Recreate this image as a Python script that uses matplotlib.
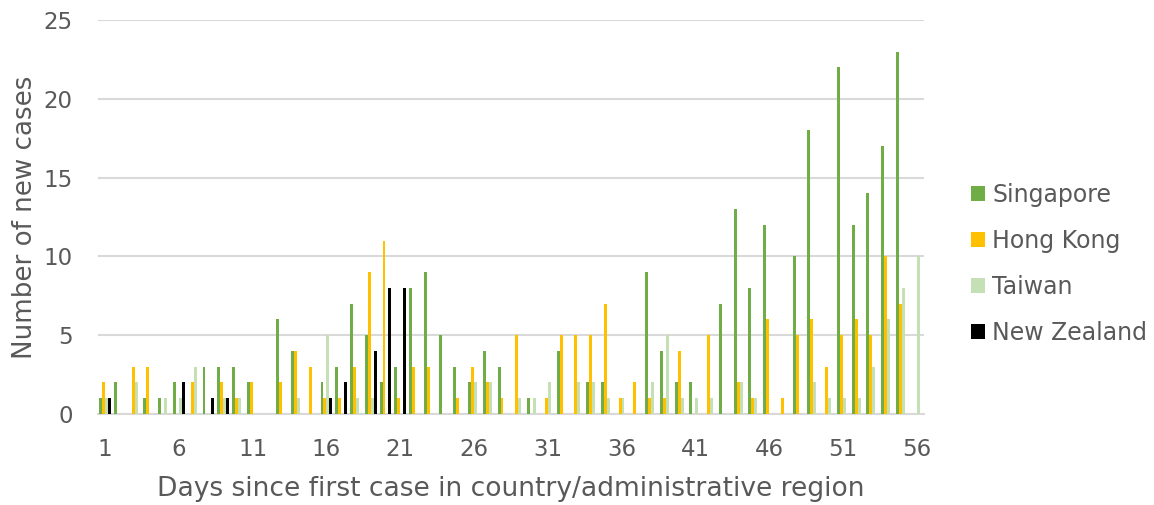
import numpy as np
import matplotlib
matplotlib.use("Agg")
import matplotlib.pyplot as plt

days = list(range(1, 57))
singapore = [1, 2, 0, 1, 1, 2, 0, 3, 3, 3, 2, 0, 6, 4, 0, 2, 3, 7, 5, 2,
             3, 8, 9, 5, 3, 2, 4, 3, 0, 1, 0, 4, 0, 2, 2, 0, 0, 9, 4, 2,
             2, 0, 7, 13, 8, 12, 0, 10, 18, 0, 22, 12, 14, 17, 23, 0]
hong_kong = [2, 0, 3, 3, 0, 0, 2, 0, 2, 1, 2, 0, 2, 4, 3, 1, 1, 3, 9, 11,
             1, 3, 3, 0, 1, 3, 2, 1, 5, 0, 1, 5, 5, 5, 7, 1, 2, 1, 1, 4,
             0, 5, 0, 2, 1, 6, 1, 5, 6, 3, 5, 6, 5, 10, 7, 0]
taiwan = [1, 0, 2, 0, 1, 1, 3, 0, 1, 1, 0, 0, 0, 1, 0, 5, 0, 1, 1, 0,
          0, 0, 0, 0, 0, 2, 2, 0, 1, 1, 2, 0, 2, 2, 1, 1, 0, 2, 5, 1,
          1, 1, 0, 2, 1, 0, 0, 0, 2, 1, 1, 1, 3, 6, 8, 10]
new_zealand = [1, 0, 0, 0, 0, 2, 0, 1, 1, 0, 0, 0, 0, 0, 0, 1, 2, 0, 4, 8,
               8, 0, 0, 0, 0, 0, 0, 0, 0, 0, 0, 0, 0, 0, 0, 0, 0, 0, 0, 0,
               0, 0, 0, 0, 0, 0, 0, 0, 0, 0, 0, 0, 0, 0, 0, 0]
series_names = ["Singapore", "Hong Kong", "Taiwan", "New Zealand"]
x_tick_labels = [str(d) for d in range(1, 57, 5)]
y_ticks = [0, 5, 10, 15, 20, 25]

colors = ["#70AD47", "#FFC000", "#C5E0B4", "#000000"]
text_color = "#595959"
grid_color = "#D9D9D9"

plt.rcParams['font.family'] = ['DejaVu Sans']

fig = plt.figure(figsize=(11.54, 5.05), dpi=100)
ax = fig.add_axes([0.0847, 0.1802, 0.8007 - 0.0847, 0.9604 - 0.1802])

x = np.array(days, dtype=float)
width = 0.2
offsets = [-0.3, -0.1, 0.1, 0.3]
handles = []
for vals, name, col, off in zip([singapore, hong_kong, taiwan, new_zealand],
                                series_names, colors, offsets):
    h = ax.bar(x + off, vals, width=width, color=col, label=name, zorder=3)
    handles.append(h)

ax.set_xlim(0.5, 56.5)
ax.set_ylim(0, 25)
ax.set_yticks(y_ticks)
ax.set_yticklabels([str(v) for v in y_ticks])
ax.set_xticks(list(range(1, 57, 5)))
ax.set_xticklabels(x_tick_labels)

ax.grid(axis='y', color=grid_color, linewidth=1.5, zorder=0)
ax.set_axisbelow(True)
for s in ['top', 'right', 'left']:
    ax.spines[s].set_visible(False)
ax.spines['bottom'].set_color(grid_color)
ax.spines['bottom'].set_linewidth(1.5)

ax.tick_params(axis='both', length=0, labelsize=16.5, colors=text_color)
ax.tick_params(axis='y', pad=18)
ax.tick_params(axis='x', pad=17)

ax.set_xlabel("Days since first case in country/administrative region",
              fontsize=19.1, color=text_color, labelpad=11)
ax.set_ylabel("Number of new cases", fontsize=18.8, color=text_color, labelpad=4)

leg = fig.legend(handles, series_names, loc='center left',
                 bbox_to_anchor=(0.823, 0.478), frameon=False,
                 fontsize=17, handlelength=0.6, handleheight=0.6,
                 handletextpad=0.3, labelspacing=0.93, labelcolor=text_color)

fig.savefig("out.png", dpi=100)
